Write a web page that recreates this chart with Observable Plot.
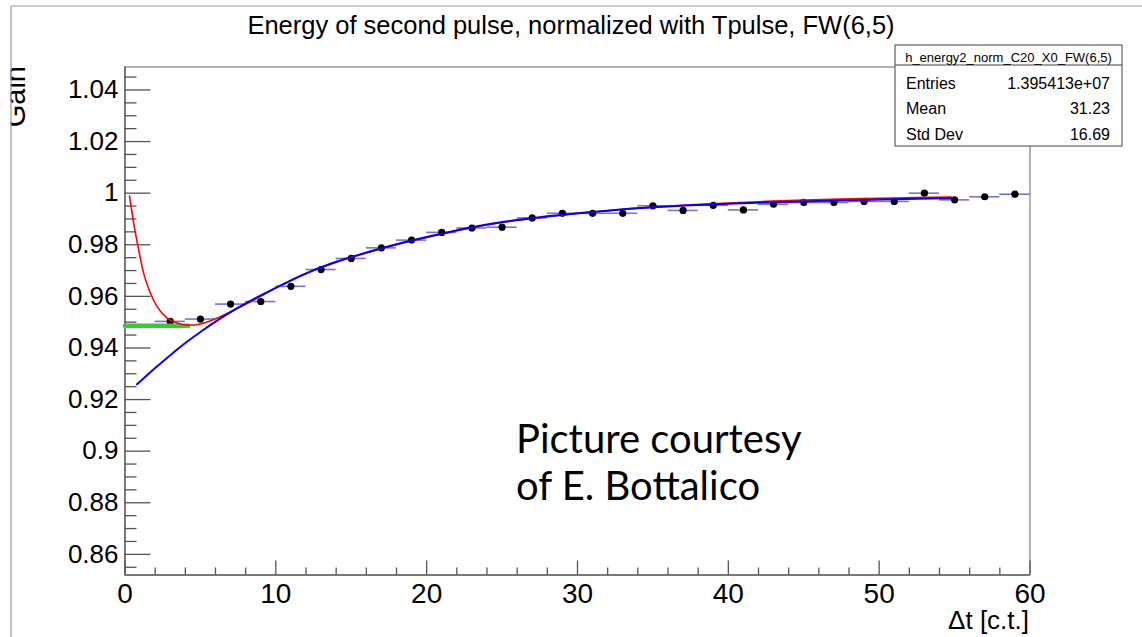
<!DOCTYPE html>
<html>
<head>
<meta charset="utf-8">
<script src="https://cdn.jsdelivr.net/npm/d3@7"></script>
<script src="https://cdn.jsdelivr.net/npm/@observablehq/plot@0.6"></script>
<style>
  html, body { margin: 0; padding: 0; background: white; }
</style>
</head>
<body>
<div id="chart"></div>
<script>
// ---- data ----
const pointX = [3,5,7,9,11,13,15,17,19,21,23,25,27,29,31,33,35,37,39,41,43,45,47,49,51,53,55,57,59];
const pointY = [0.9503,0.9512,0.9570,0.9580,0.9639,0.9704,0.9747,0.9788,0.9818,0.9848,0.9865,0.9868,0.9904,0.9922,0.9922,0.9922,0.9951,0.9933,0.9953,0.9935,0.9957,0.9964,0.9964,0.9968,0.9968,1.0000,0.9974,0.9986,0.9996];
const binHalfWidth = 1;

const redX = [0.3,0.57,0.9,1.23,1.68,2.12,2.79,3.45,4.2,5.0,5.88,7.0,8.3,10,12,14,16,18,20,22.5,25,27.5,30,32.5,35,37.5,40,42.5,45,47.5,50,52.5,54.8];
const redY = [0.9989,0.9886,0.9782,0.9691,0.9613,0.9561,0.9516,0.9497,0.9488,0.9493,0.9510,0.9540,0.9578,0.9632,0.9688,0.9732,0.9768,0.9800,0.9828,0.9860,0.9886,0.9905,0.9921,0.9935,0.9946,0.9955,0.9962,0.9968,0.9973,0.9977,0.9980,0.9983,0.9985];

const blueX = [0.8,2,3,4,5,6,7,8,10,12,14,16,18,20,22.5,25,27.5,30,32.5,35,37.5,40,42.5,45,47.5,50,52.5,54.8];
const blueY = [0.9259,0.9322,0.9372,0.9419,0.9462,0.9502,0.9539,0.9573,0.9633,0.9689,0.9734,0.9770,0.9802,0.9830,0.9862,0.9888,0.9907,0.9922,0.9935,0.9945,0.9953,0.9959,0.9964,0.9968,0.9972,0.9975,0.9978,0.9980];

const greenX = [0, 4.2];
const greenY = [0.9486, 0.9486];

const xTickVals = [0,10,20,30,40,50,60];
const xTickLabels = ["0","10","20","30","40","50","60"];
const xMinorVals = [2,4,6,8,12,14,16,18,22,24,26,28,32,34,36,38,42,44,46,48,52,54,56,58];
const yTickVals = [0.86,0.88,0.9,0.92,0.94,0.96,0.98,1.0,1.02,1.04];
const yTickLabels = ["0.86","0.88","0.9","0.92","0.94","0.96","0.98","1","1.02","1.04"];
const yMinorVals = [0.855,0.865,0.87,0.875,0.885,0.89,0.895,0.905,0.91,0.915,0.925,0.93,0.935,0.945,0.95,0.955,0.965,0.97,0.975,0.985,0.99,0.995,1.005,1.01,1.015,1.025,1.03,1.035,1.045];

const titleText = "Energy of second pulse, normalized with Tpulse, FW(6,5)";
const xLabel = "\u0394t [c.t.]";
const yLabel = "Gain";
const statsName = "h_energy2_norm_C20_X0_FW(6,5)";
const statsRows = [["Entries","1.395413e+07"],["Mean","31.23"],["Std Dev","16.69"]];
const noteLines = ["Picture courtesy","of E. Bottalico"];

// ---- build ----
const points = pointX.map((x,i) => ({x, y: pointY[i]}));
const red = redX.map((x,i) => ({x, y: redY[i]}));
const blue = blueX.map((x,i) => ({x, y: blueY[i]}));
const green = greenX.map((x,i) => ({x, y: greenY[i]}));

const W = 1142, H = 637;
const mL = 124.5, mR = 112.5, mT = 66.5, mB = 62.5;
const plotW = W - mL - mR, plotH = H - mT - mB;
const axisColor = "#555";

const chart = Plot.plot({
  width: W, height: H,
  marginLeft: mL, marginRight: mR, marginTop: mT, marginBottom: mB,
  style: {fontFamily: "'Liberation Sans', Arial, Helvetica, sans-serif", background: "white", overflow: "visible"},
  x: {domain: [0, 60], axis: null},
  y: {domain: [0.852, 1.0489], axis: null},
  marks: [
    Plot.frame({stroke: "#999", strokeWidth: 1.5}),
    Plot.ruleX([0], {stroke: "#666", strokeWidth: 1.5}),
    Plot.ruleY([0.852], {stroke: "#666", strokeWidth: 1.5}),
    Plot.tickY(yTickVals, {y: d => d, insetRight: plotW - 26, stroke: axisColor, strokeWidth: 1.3}),
    Plot.tickY(yMinorVals, {y: d => d, insetRight: plotW - 12, stroke: axisColor, strokeWidth: 1.3}),
    Plot.tickX(xTickVals, {x: d => d, insetTop: plotH - 14, stroke: axisColor, strokeWidth: 1.3}),
    Plot.tickX(xMinorVals, {x: d => d, insetTop: plotH - 7, stroke: axisColor, strokeWidth: 1.3}),
    Plot.text(yTickVals, {y: d => d, text: (d, i) => yTickLabels[i], frameAnchor: "left", dx: -6.5, textAnchor: "end", lineAnchor: "middle", fontSize: 26, fill: "black"}),
    Plot.text(xTickVals, {x: d => d, text: (d, i) => xTickLabels[i], frameAnchor: "bottom", dy: 8.5, textAnchor: "middle", lineAnchor: "top", fontSize: 28, fill: "black"}),
    Plot.ruleY(points, {y: "y", x1: d => d.x - binHalfWidth, x2: d => d.x + binHalfWidth, stroke: "#7474d4", strokeWidth: 1.6}),
    Plot.dot(points, {x: "x", y: "y", r: 3.6, fill: "black", stroke: "none"}),
    Plot.line(green, {x: "x", y: "y", stroke: "#33cc33", strokeWidth: 4.5}),
    Plot.line(red, {x: "x", y: "y", stroke: "#ff0000", strokeWidth: 1.6, curve: "monotone-x"}),
    Plot.line(blue, {x: "x", y: "y", stroke: "#0000ff", strokeWidth: 2, curve: "monotone-x"})
  ]
});
document.getElementById("chart").appendChild(chart);

// ---- annotations ----
const svg = d3.select(chart);
const ff = "'Liberation Sans', Arial, Helvetica, sans-serif";

svg.append("text").attr("x", 571).attr("y", 33.5).attr("text-anchor", "middle")
  .attr("font-family", ff).attr("font-size", 25.5).attr("fill", "black").text(titleText);

svg.append("text").attr("transform", "translate(25,66) rotate(-90)").attr("text-anchor", "end")
  .attr("font-family", ff).attr("font-size", 29).attr("fill", "black").text(yLabel);

svg.append("text").attr("x", 1029).attr("y", 629).attr("text-anchor", "end")
  .attr("font-family", ff).attr("font-size", 26).attr("fill", "black").text(xLabel);

// canvas border (clips the axis title as in the original)
svg.append("rect").attr("x", 0).attr("y", 0).attr("width", 10.5).attr("height", H).attr("fill", "white");
svg.append("rect").attr("x", 0).attr("y", 0).attr("width", W).attr("height", 5.5).attr("fill", "white");
svg.append("line").attr("x1", 11).attr("x2", 11).attr("y1", 6).attr("y2", H).attr("stroke", "#999").attr("stroke-width", 1.2);
svg.append("line").attr("x1", 11).attr("x2", W).attr("y1", 6).attr("y2", 6).attr("stroke", "#999").attr("stroke-width", 1.2);

// stats box
const bx = 895, by = 45, bw = 227, bh = 101;
const g = svg.append("g");
g.append("rect").attr("x", bx).attr("y", by).attr("width", bw).attr("height", bh)
  .attr("fill", "white").attr("stroke", "#444").attr("stroke-width", 1);
g.append("line").attr("x1", bx).attr("x2", bx + bw).attr("y1", 65).attr("y2", 65).attr("stroke", "#444").attr("stroke-width", 1);
g.append("text").attr("x", bx + bw / 2).attr("y", 61.5).attr("text-anchor", "middle")
  .attr("font-family", ff).attr("font-size", 13).attr("fill", "black").text(statsName);
statsRows.forEach((r, i) => {
  const yb = 88.5 + i * 25.5;
  g.append("text").attr("x", 906).attr("y", yb).attr("text-anchor", "start").attr("font-family", ff).attr("font-size", 16).attr("fill", "black").text(r[0]);
  g.append("text").attr("x", 1110).attr("y", yb).attr("text-anchor", "end").attr("font-family", ff).attr("font-size", 16).attr("fill", "black").text(r[1]);
});

// courtesy note
noteLines.forEach((t, i) => {
  svg.append("text").attr("x", 516).attr("y", 453 + i * 47).attr("text-anchor", "start")
    .attr("font-family", "Lato, 'Open Sans', sans-serif")
    .attr("font-size", 40).attr("fill", "black").text(t);
});
</script>
</body>
</html>
